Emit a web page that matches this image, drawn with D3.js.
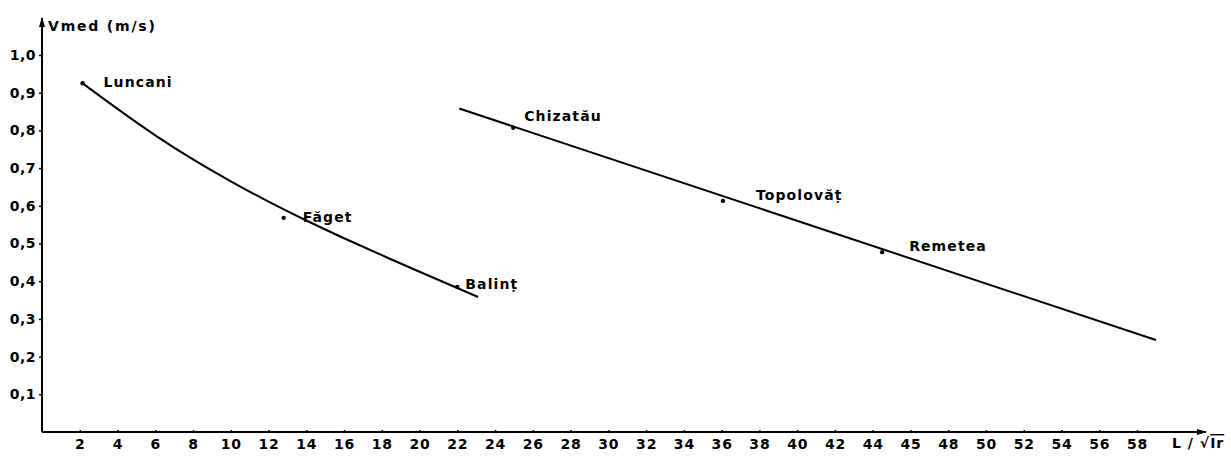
<!DOCTYPE html>
<html>
<head>
<meta charset="utf-8">
<script src="https://cdn.jsdelivr.net/npm/d3@7"></script>
<style>
  body { margin: 0; background: #fff; }
  text { font-family: "DejaVu Sans", sans-serif; fill: #000; }
</style>
</head>
<body>
<svg id="chart" width="1231" height="458"></svg>
<script>
// --- data ---
const xTicks = [2, 4, 6, 8, 10, 12, 14, 16, 18, 20, 22, 24, 26, 28, 30, 32, 34, 36, 38, 40, 42, 44, 46, 48, 50, 52, 54, 56, 58];
const xTickLabels = ["2", "4", "6", "8", "10", "12", "14", "16", "18", "20", "22", "24", "26", "28", "30", "32", "34", "36", "38", "40", "42", "44", "45", "48", "50", "52", "54", "56", "58"];
const yTicks = [0.1, 0.2, 0.3, 0.4, 0.5, 0.6, 0.7, 0.8, 0.9, 1.0];
const yTickLabels = ["0,1", "0,2", "0,3", "0,4", "0,5", "0,6", "0,7", "0,8", "0,9", "1,0"];

// upper river section (curve)
const curveX = [2.15, 4, 6, 8, 10, 12, 14, 16, 18, 20, 23.1];
const curveV = [0.925, 0.857, 0.787, 0.723, 0.665, 0.611, 0.561, 0.514, 0.469, 0.425, 0.358];

// lower river section (straight line)
const lineX = [22.1, 59.0];
const lineV = [0.858, 0.244];

// gauging stations
const stations = ["Luncani", "Făget", "Balinț", "Chizatău", "Topolovăț", "Remetea"];
const stationX = [2.15, 12.8, 22.0, 24.96, 36.07, 44.5];
const stationV = [0.925, 0.568, 0.385, 0.807, 0.613, 0.477];
const labelDx = [21, 19, 8, 11, 33, 27];
const labelDy = [4, 4, 2, -7, -1, -1];

const svg = d3.select("#chart");

const x = d3.scaleLinear().domain([0, 58]).range([42, 1137]);
const y = d3.scaleLinear().domain([0, 1]).range([432, 55]);

// --- axes ---
svg.append("defs").append("marker")
  .attr("id", "arrow")
  .attr("viewBox", "0 0 10 10")
  .attr("refX", 9).attr("refY", 5)
  .attr("markerWidth", 5).attr("markerHeight", 5)
  .attr("markerUnits", "strokeWidth")
  .attr("orient", "auto")
  .append("path")
  .attr("d", "M0,2 L10,5 L0,8 Z")
  .attr("fill", "#000");

const xAxisG = svg.append("g")
  .attr("transform", `translate(0,${y(0)})`)
  .call(d3.axisBottom(x)
    .tickValues(xTicks)
    .tickFormat((d, i) => xTickLabels[i])
    .tickSize(3)
    .tickPadding(4));

xAxisG.select(".domain").remove();
xAxisG.selectAll(".tick line").attr("y1", -2).attr("y2", 1).attr("stroke-width", 1.5);
xAxisG.selectAll(".tick text")
  .style("font-size", "14px")
  .style("font-weight", "bold")
  .style("letter-spacing", "0.8px");

svg.append("line")
  .attr("x1", x(0)).attr("x2", 1206)
  .attr("y1", y(0)).attr("y2", y(0))
  .attr("stroke", "#000").attr("stroke-width", 2)
  .attr("marker-end", "url(#arrow)");

const yAxisG = svg.append("g")
  .attr("transform", `translate(${x(0)},0)`)
  .call(d3.axisLeft(y)
    .tickValues(yTicks)
    .tickFormat((d, i) => yTickLabels[i])
    .tickSize(3)
    .tickPadding(3));

yAxisG.select(".domain").remove();
yAxisG.selectAll(".tick line").attr("stroke-width", 1.5);
yAxisG.selectAll(".tick text")
  .style("font-size", "14px")
  .style("font-weight", "bold")
  .style("letter-spacing", "0.5px");

svg.append("line")
  .attr("x1", x(0)).attr("x2", x(0))
  .attr("y1", y(0)).attr("y2", 18)
  .attr("stroke", "#000").attr("stroke-width", 2)
  .attr("marker-end", "url(#arrow)");

// axis titles
svg.append("text")
  .attr("x", 48).attr("y", 31)
  .style("font-size", "14px")
  .style("font-weight", "bold")
  .style("letter-spacing", "1.8px")
  .text("Vmed (m/s)");

const xTitle = svg.append("text")
  .attr("x", 1172).attr("y", 448)
  .style("font-size", "14px")
  .style("font-weight", "bold")
  .style("letter-spacing", "1px");
xTitle.append("tspan").text("L / √");
xTitle.append("tspan").style("text-decoration", "overline").text("Ir");

// --- lines ---
const line = d3.line()
  .x(d => x(d[0]))
  .y(d => y(d[1]))
  .curve(d3.curveNatural);

svg.append("path")
  .datum(d3.zip(curveX, curveV))
  .attr("fill", "none")
  .attr("stroke", "#000")
  .attr("stroke-width", 2)
  .attr("d", line);

svg.append("path")
  .datum(d3.zip(lineX, lineV))
  .attr("fill", "none")
  .attr("stroke", "#000")
  .attr("stroke-width", 2)
  .attr("d", d3.line().x(d => x(d[0])).y(d => y(d[1])));

// --- stations ---
const st = stations.map((name, i) => ({ name, x: stationX[i], v: stationV[i], dx: labelDx[i], dy: labelDy[i] }));

svg.selectAll("circle.station")
  .data(st)
  .enter()
  .append("circle")
  .attr("class", "station")
  .attr("cx", d => x(d.x))
  .attr("cy", d => y(d.v))
  .attr("r", 2.2)
  .attr("fill", "#000");

svg.selectAll("text.station")
  .data(st)
  .enter()
  .append("text")
  .attr("class", "station")
  .attr("x", d => x(d.x) + d.dx)
  .attr("y", d => y(d.v) + d.dy)
  .style("font-size", "14px")
  .style("font-weight", "bold")
  .style("letter-spacing", "1.1px")
  .text(d => d.name);
</script>
</body>
</html>
